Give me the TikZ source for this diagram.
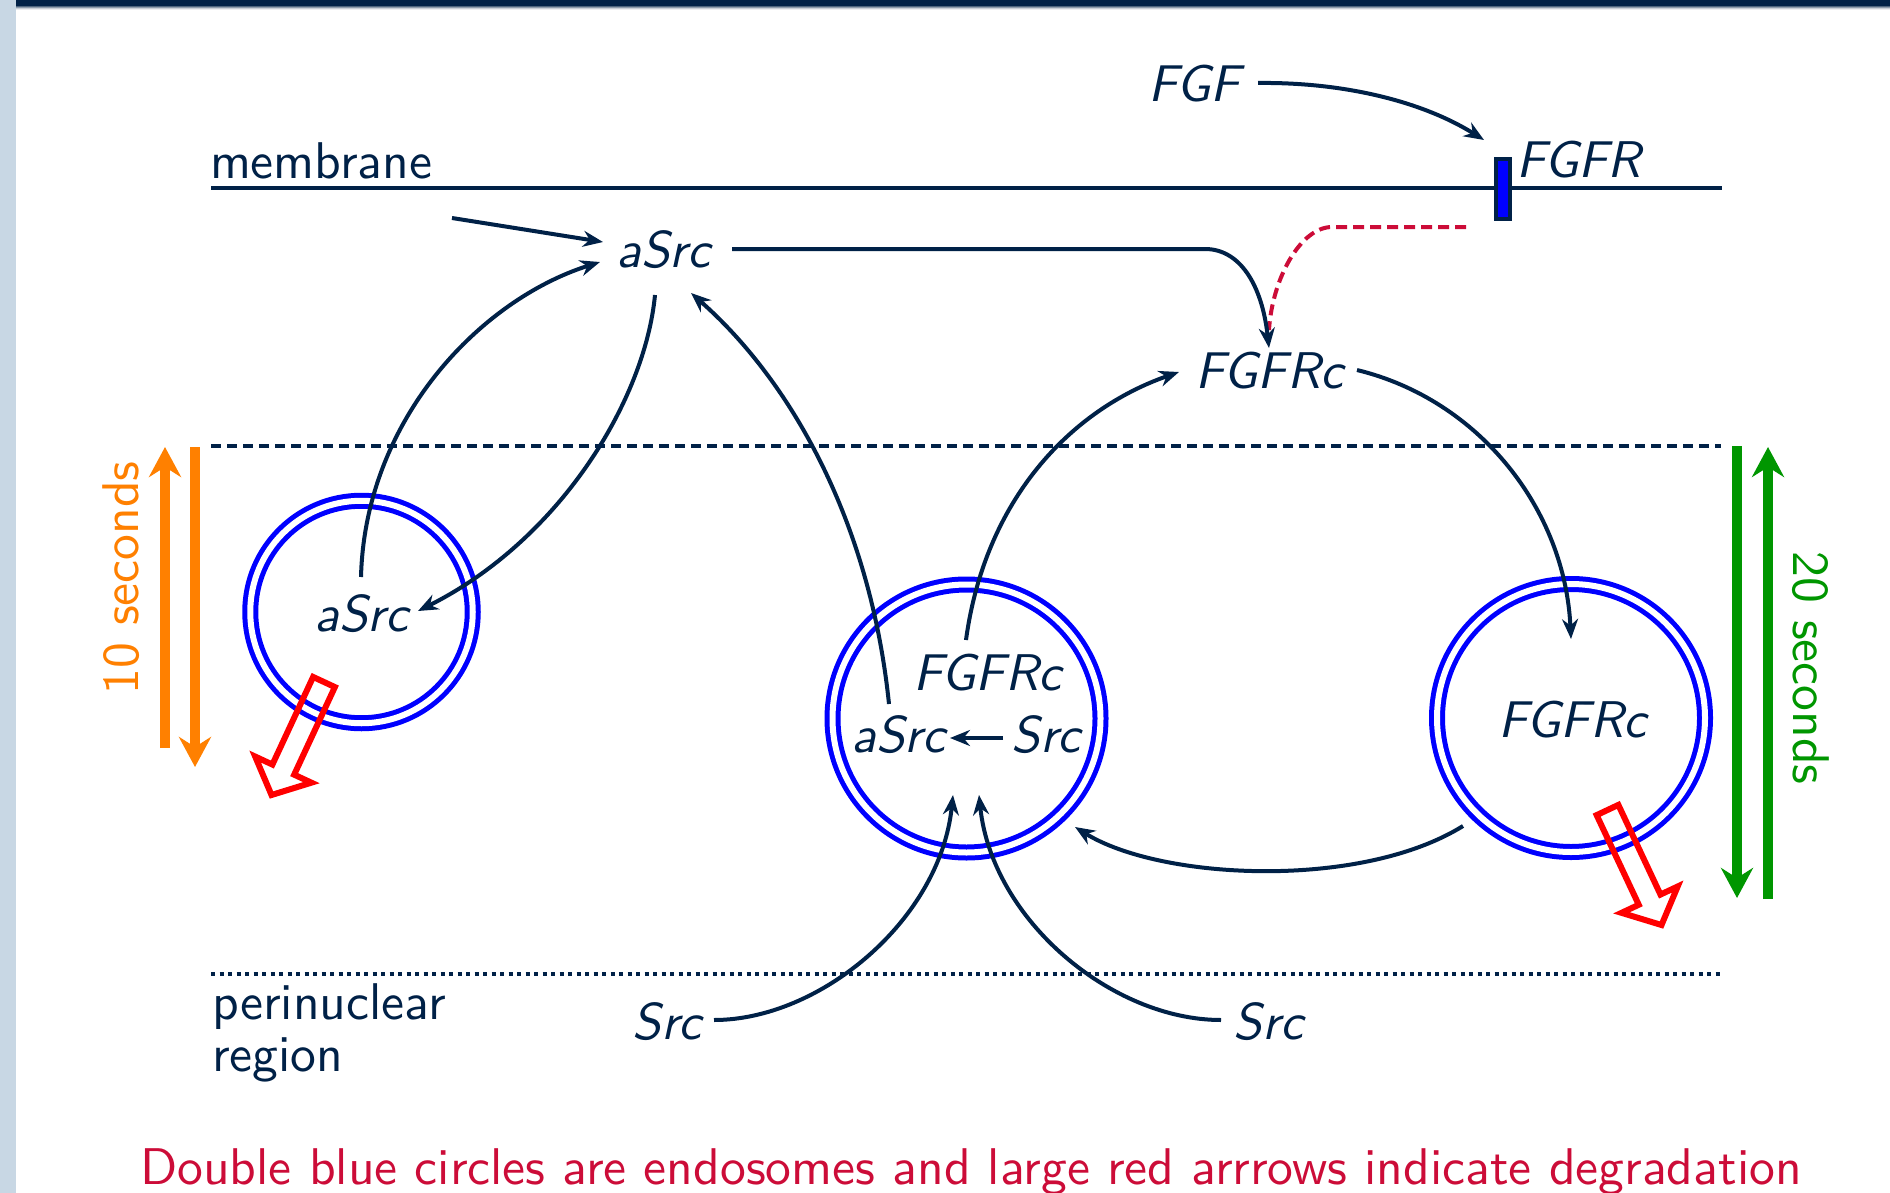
\documentclass[tikz,border=0pt]{standalone}
\usetikzlibrary{arrows.meta,calc}
\definecolor{navy}{RGB}{0,33,71}
\definecolor{stripc}{RGB}{200,215,228}
\definecolor{endo}{RGB}{0,0,255}
\definecolor{orng}{RGB}{255,128,0}
\definecolor{grn}{RGB}{0,150,0}
\definecolor{degred}{RGB}{255,0,0}
\definecolor{crim}{RGB}{204,12,56}
\tikzset{
 txt/.style={font=\fontsize{10.2pt}{12pt}\selectfont\sffamily, scale=2.53, inner sep=0pt, text=navy},
 mol/.style={txt, font=\fontsize{10.2pt}{12pt}\selectfont\sffamily\slshape, anchor=base},
 conn/.style={draw=navy, line width=2pt, -{Stealth[length=10pt,width=8pt,inset=3.3pt]}},
 endosome/.style={circle, draw=endo, line width=2.5pt, double=white, double distance=3pt, inner sep=0pt},
 bigarrow/.style={line width=5pt, -{Stealth[length=15pt,width=16pt,inset=5pt]}},
 degr/.style={draw=degred, line width=3pt, line join=miter},
}
\newcommand\degarrow[2]{%
 \coordinate (dgT) at #1; \coordinate (dgP) at #2;
 \coordinate (dgB) at ($(dgP)!14pt!(dgT)$);
 \draw[degr] ($(dgT)!6pt!90:(dgP)$) -- ($(dgB)!6pt!-90:(dgT)$) -- ($(dgB)!15.5pt!-90:(dgT)$) -- (dgP) -- ($(dgB)!15.5pt!90:(dgT)$) -- ($(dgB)!6pt!90:(dgT)$) -- ($(dgT)!6pt!-90:(dgP)$) -- cycle;}
\begin{document}
\begin{tikzpicture}[x=0.5pt,y=-0.5pt]
\useasboundingbox (0,0) rectangle (1890,1193);
% slide frame
\fill[white] (0,0) rectangle (1890,1193);
\fill[stripc] (0,0) rectangle (16,1193);
\fill[navy] (16,0) rectangle (1890,6);
\fill[navy!70] (16,6) rectangle (1890,7);
\fill[navy!45] (16,7) rectangle (1890,8);
\fill[navy!22] (16,8) rectangle (1890,9);
\fill[navy!8] (16,9) rectangle (1890,10);

% region lines
\coordinate (membL) at (211,188);
\coordinate (membR) at (1722,188);
\coordinate (dashL) at (211,446);
\coordinate (dashR) at (1721,446);
\coordinate (dotL) at (211,974);
\coordinate (dotR) at (1721,974);
\draw[navy, line width=2.25pt] (membL) -- (membR);
\draw[navy, line width=2pt, dash pattern=on 5pt off 3pt] (dashL) -- (dashR);
\draw[navy, line width=2pt, dash pattern=on 2pt off 2.25pt] (dotL) -- (dotR);

% receptor
\node[draw=navy, fill=endo, line width=2pt, minimum width=7pt, minimum height=30pt, inner sep=0pt] (fgfrb) at (1503,189) {};

% endosomes
\node[endosome, minimum size=111.25pt] (endoL) at (361.5,612) {};
\node[endosome, minimum size=134pt] (endoC) at (966.5,718.5) {};
\node[endosome, minimum size=134pt] (endoR) at (1571,718) {};

% labels
\node[txt, anchor=base west] (memb) at (209,178) {membrane};
\node[txt, anchor=base west] (perin) at (211,1019) {perinuclear};
\node[txt, anchor=base west] (regn) at (211,1071) {region};
\node[txt, text=orng, rotate=90, anchor=base] (tensec) at (138,578) {10 seconds};
\node[txt, text=grn, rotate=-90, anchor=base] (twentysec) at (1793,668) {20 seconds};
\node[txt, text=crim, anchor=base] (caption) at (971,1184) {Double blue circles are endosomes and large red arrrows indicate degradation};

% molecules
\node[mol] (fgf) at (1194,102) {FGF};
\node[mol, anchor=base west] (fgfr) at (1515,177) {FGFR};
\node[mol] (asrcT) at (663.5,267) {aSrc};
\node[mol] (fgfrcT) at (1269.5,388) {FGFRc};
\node[mol] (asrcL) at (361.5,631) {aSrc};
\node[mol] (fgfrcC) at (987.5,690) {FGFRc};
\node[mol] (asrcC) at (898.5,752) {aSrc};
\node[mol] (srcC) at (1046,752) {Src};
\node[mol] (fgfrcR) at (1572.5,737) {FGFRc};
\node[mol] (srcBL) at (667,1039) {Src};
\node[mol] (srcBR) at (1268.5,1039) {Src};

% connectors
\draw[conn] ($(fgf.base)+(64,-19)$) .. controls +(82,-1) and +(-64,-40) .. ($(fgfrb.center)+(-19,-49)$);
\draw[crim, line width=2pt, dash pattern=on 5.5pt off 3pt] ($(fgfrb.center)+(-37,38)$) -- ++(-134,0) .. controls +(-32,0) and +(3,-50) .. ($(fgfrcT.base)+(-0.5,-58)$);
\draw[conn] ($(asrcT.base)+(68.5,-18)$) -- ++(473,0) .. controls +(35,0) and +(-7,-63) .. ($(fgfrcT.base)+(-0.5,-40)$);
\coordinate (srcin) at (452,218);
\draw[conn] (srcin) -- ($(asrcT.base)+(-60.5,-25)$);
\draw[conn] ($(asrcL.base)+(-0.5,-54)$) .. controls +(4,-157) and +(-120,38) .. ($(asrcT.base)+(-63.5,-5)$);
\draw[conn] ($(asrcT.base)+(-8.5,28)$) .. controls +(-10,105) and +(142,-71) .. ($(asrcL.base)+(56.5,-20)$);
\draw[conn] ($(asrcC.base)+(-9.5,-48)$) .. controls +(-19,-184) and +(99,87) .. ($(asrcT.base)+(27.5,26)$);
\draw[conn] ($(fgfrcC.base)+(-21.5,-50)$) .. controls +(19,-140) and +(-109,38) .. ($(fgfrcT.base)+(-90.5,-16)$);
\draw[conn] ($(fgfrcT.base)+(87.5,-18)$) .. controls +(123,30) and +(-6,-129) .. ($(fgfrcR.base)+(-1.5,-98)$);
\draw[conn] ($(endoR.center)+(-108,108)$) .. controls +(-103,64) and +(85,53) .. ($(endoC.center)+(108.5,108.5)$);
\draw[conn] ($(srcC.base)+(-43,-14)$) -- ($(asrcC.base)+(51.5,-14)$);
\draw[conn] ($(srcBL.base)+(47,-19)$) .. controls +(106,0) and +(-13,125) .. ($(endoC.center)+(-13.5,76.5)$);
\draw[conn] ($(srcBR.base)+(-47.5,-19)$) .. controls +(-109,0) and +(13,125) .. ($(endoC.center)+(12.5,76.5)$);

% time arrows
\coordinate (o1s) at (165,748); \coordinate (o1e) at (165,447);
\coordinate (o2s) at (195,447); \coordinate (o2e) at (195,767);
\coordinate (g1s) at (1737,446); \coordinate (g1e) at (1737,898);
\coordinate (g2s) at (1768,899); \coordinate (g2e) at (1768,447);
\draw[bigarrow, orng] (o1s) -- (o1e);
\draw[bigarrow, orng] (o2s) -- (o2e);
\draw[bigarrow, grn] (g1s) -- (g1e);
\draw[bigarrow, grn] (g2s) -- (g2e);

% degradation arrows
\degarrow{($(endoL.center)+(-37.5,70)$)}{($(endoL.center)+(-90,183)$)}
\degarrow{($(endoR.center)+(36.5,92)$)}{($(endoR.center)+(90.5,207)$)}
\end{tikzpicture}
\end{document}
